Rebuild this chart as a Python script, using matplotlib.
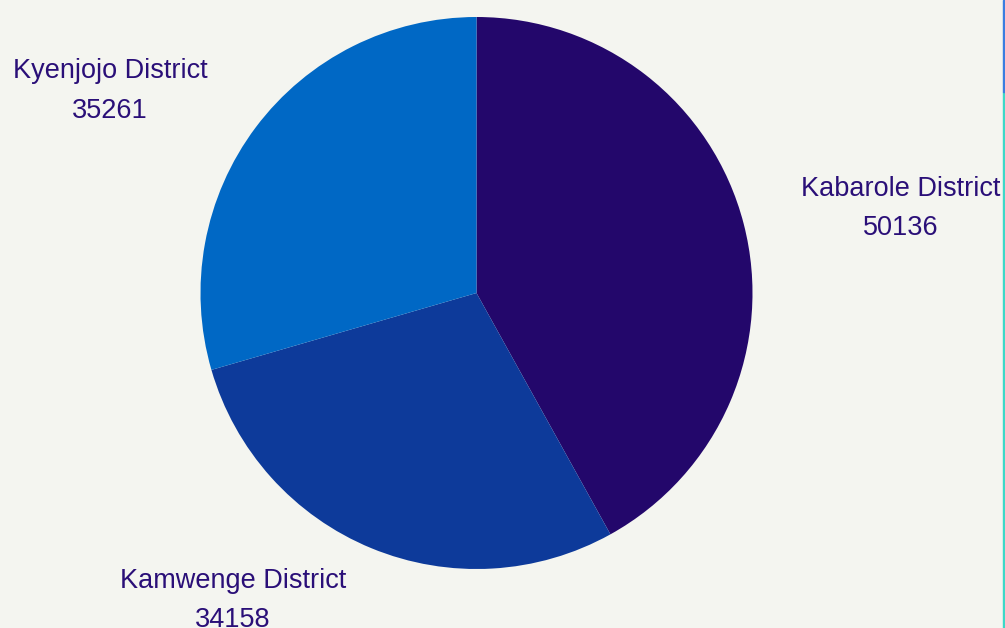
import matplotlib
matplotlib.use("Agg")
import matplotlib.pyplot as plt
from matplotlib.patches import Rectangle

districts = ["Kabarole District", "Kamwenge District", "Kyenjojo District"]
values = [50136, 34158, 35261]
colors = ["#23076b", "#0d3a9a", "#0068c5"]

W, H = 1005, 628
fig = plt.figure(figsize=(W / 100, H / 100), dpi=100)
bg = "#f4f5f0"
fig.patch.set_facecolor(bg)

cx, cy, R = 476.5, 293.0, 276.0
ax = fig.add_axes([0, 0, 1, 1])
ax.set_facecolor(bg)
ax.pie(values, colors=colors, startangle=90, counterclock=False, radius=1.0,
       center=(0, 0), wedgeprops=dict(linewidth=0))
ax.set_xlim(-cx / R, (W - cx) / R)
ax.set_ylim(-(H - cy) / R, cy / R)
ax.set_aspect("auto")
ax.axis("off")

def px(x, y):
    return (x - cx) / R, (cy - y) / R

label_pos = [(901, 208), (233, 600.5), (110, 91)]
txt_color = "#2a0f78"
for name, val, (lx, ly) in zip(districts, values, label_pos):
    x, y = px(lx, ly)
    ax.text(x, y, f"{name}\n{val}", ha="center", va="center",
            fontsize=19.5, family="Liberation Sans", color=txt_color,
            linespacing=1.65, multialignment="center")

# right edge strip
fig.patches.append(Rectangle((1002.5 / W, 0), 2.5 / W, 1 - 92 / H,
                             transform=fig.transFigure, color="#3dd8c8", zorder=5))
fig.patches.append(Rectangle((1002.5 / W, 1 - 92 / H), 2.5 / W, 92 / H,
                             transform=fig.transFigure, color="#3b7de0", zorder=5))

fig.savefig("out.png", dpi=100, facecolor=bg)
